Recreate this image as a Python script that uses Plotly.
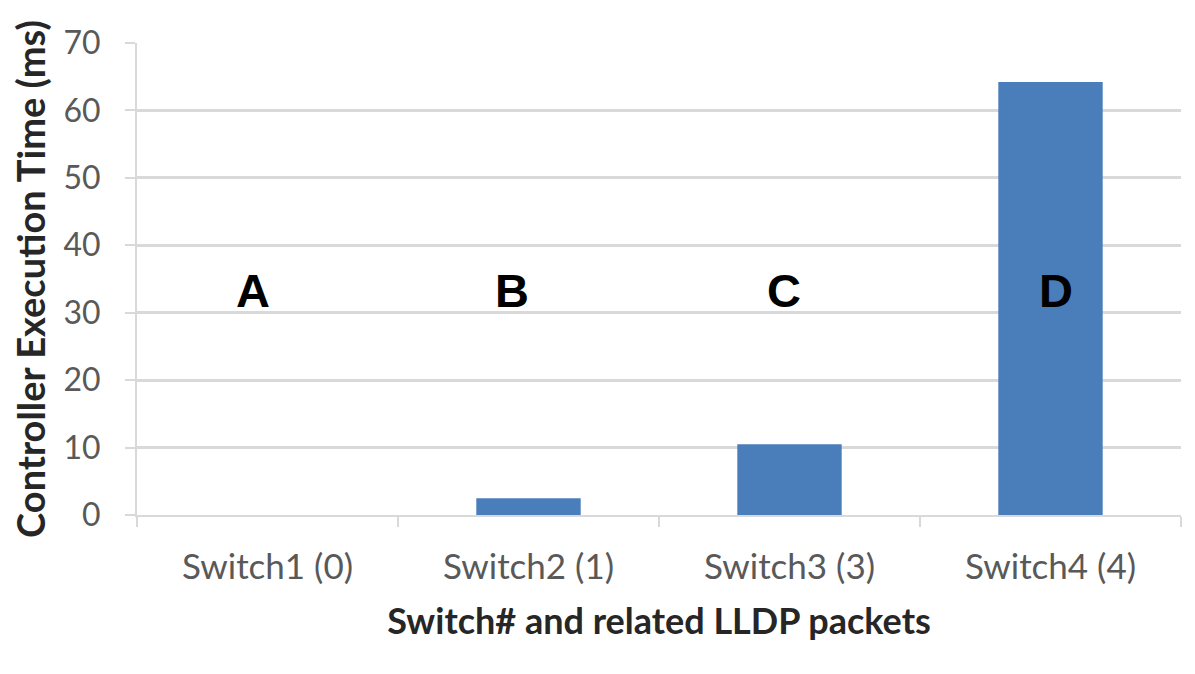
import plotly.graph_objects as go

# Controller execution time per switch (number of related LLDP packets in brackets)
switches = ["Switch1 (0)", "Switch2 (1)", "Switch3 (3)", "Switch4 (4)"]
exec_time_ms = [0, 2.5, 10.5, 64.2]
panel_letters = ["A", "B", "C", "D"]
letter_shift_px = [-15, -17, -6, 5]
y_ticks = [0, 10, 20, 30, 40, 50, 60, 70]

BAR_BLUE = "#4a7ebb"
GRID = "#d9d9d9"
TEXT_GREY = "#595959"
BODY_FONT = "Lato, Open Sans, sans-serif"

fig = go.Figure()
fig.add_trace(go.Bar(
    x=switches,
    y=exec_time_ms,
    width=0.4,
    marker=dict(color=BAR_BLUE, line=dict(width=0)),
    showlegend=False,
))

for sw, letter, shift in zip(switches, panel_letters, letter_shift_px):
    fig.add_annotation(
        x=sw, y=33.3, xref="x", yref="y",
        text="<b>" + letter + "</b>", showarrow=False, xshift=shift,
        font=dict(family="Liberation Sans, Arial, sans-serif", size=47, color="black"),
    )

fig.update_layout(
    width=1195, height=674,
    margin=dict(l=137, r=14, t=43, b=159),
    paper_bgcolor="white",
    plot_bgcolor="white",
    bargap=0.6,
    font=dict(family=BODY_FONT, color=TEXT_GREY),
)

fig.update_xaxes(
    type="category",
    showline=True, linecolor=GRID, linewidth=2,
    ticks="outside", tickson="boundaries", ticklen=10, tickcolor=GRID, tickwidth=2,
    ticklabelstandoff=20,
    tickfont=dict(family=BODY_FONT, size=35, color=TEXT_GREY),
    showgrid=False,
    title=dict(text="<b>Switch# and related LLDP packets</b>",
               font=dict(family=BODY_FONT, size=36, color="#262626"), standoff=24),
)

fig.update_yaxes(
    range=[0, 70], tickvals=y_ticks,
    showline=True, linecolor=GRID, linewidth=2,
    showgrid=True, gridcolor=GRID, gridwidth=2.5,
    zeroline=False,
    ticks="outside", ticklen=10, tickcolor=GRID, tickwidth=2,
    ticklabelstandoff=18,
    tickfont=dict(family=BODY_FONT, size=32, color=TEXT_GREY),
    title=dict(text="<b>Controller Execution Time (ms)</b>",
               font=dict(family=BODY_FONT, size=38, color="#262626"), standoff=6),
)

fig.write_html("out.html")
